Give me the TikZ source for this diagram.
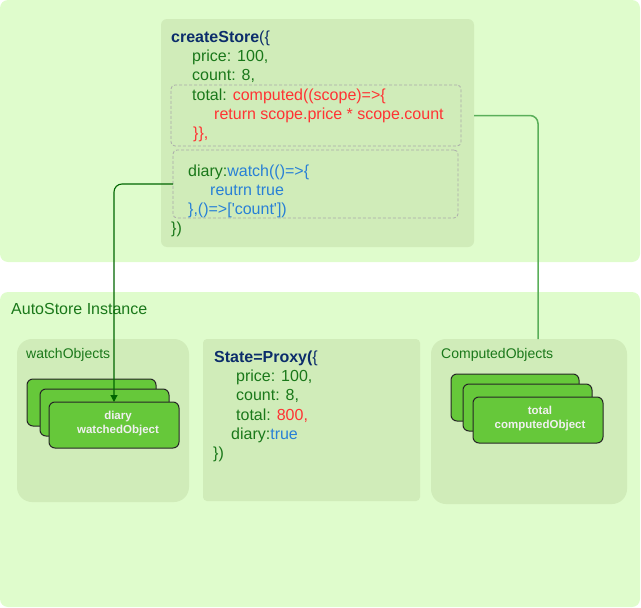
\documentclass[tikz,border=0pt]{standalone}
\usepackage{fontspec}
\setmainfont{Liberation Sans}[Ligatures=TeXOff]
\usetikzlibrary{arrows.meta}
\definecolor{paleGreen}{RGB}{223,252,204}
\definecolor{panelGreen}{RGB}{208,236,185}
\definecolor{objGreen}{RGB}{102,200,58}
\definecolor{objText}{RGB}{240,240,240}
\definecolor{codeGreen}{RGB}{26,120,26}
\definecolor{codeNavy}{RGB}{12,45,107}
\definecolor{codeRed}{RGB}{255,51,51}
\definecolor{codeBlue}{RGB}{40,128,214}
\definecolor{linkDark}{RGB}{0,102,0}
\definecolor{linkLight}{RGB}{90,175,90}
\definecolor{dashGray}{RGB}{170,170,170}

\begin{document}
\begin{tikzpicture}
[
    x=1pt, y=-1pt,
    area/.style={fill=paleGreen, rounded corners=8pt, inner sep=0, outer sep=0, anchor=north west},
    panel/.style={fill=panelGreen, rounded corners=#1, inner sep=0, outer sep=0, anchor=north west},
    dashbox/.style={draw=dashGray, dash pattern=on 3pt off 2pt, line width=0.8pt, rounded corners=4pt, inner sep=0, outer sep=0, anchor=north west},
    objbox/.style={fill=objGreen, draw=black!85, line width=1pt, rounded corners=6pt, minimum width=130pt, minimum height=46pt, inner sep=0, outer sep=0},
    objtext/.style={font=\fontsize{11.5}{14}\selectfont\bfseries, text=objText, align=center, inner sep=0},
    codetext/.style={font=\fontsize{16}{19.1}\selectfont, text=codeGreen, align=left, inner sep=0, anchor=north west},
    caption/.style={font=\fontsize{14}{17}\selectfont, text=codeGreen, inner sep=0, anchor=west},
    link/.style={rounded corners=8pt}
]
    \useasboundingbox (0,0) rectangle (641,608);

    \begin{scope}
        \node [area, minimum width=640pt, minimum height=262pt] (upper) at (0,0) {};
        \node [panel=6pt, minimum width=313pt, minimum height=228pt] (store) at (161,19) {};
        \node [dashbox, minimum width=290pt, minimum height=61pt] (dcomp) at (171,85) {};
        \node [dashbox, minimum width=285pt, minimum height=68pt] (dwatch) at (173,150) {};
        \node [codetext] (storecode) at (171,31) {%
            {\color{codeNavy}\textbf{createStore}(\{}\\
            \hspace*{21pt}price: 100,\\
            \hspace*{21pt}count: 8,\\
            \hspace*{21pt}total: {\color{codeRed}computed((scope)=>\{}\\
            \hspace*{43pt}{\color{codeRed}return scope.price * scope.count}\\
            \hspace*{22pt}{\color{codeRed}\}\},}\\
            \mbox{}\\
            \hspace*{17pt}diary:{\color{codeBlue}watch(()=>\{}\\
            \hspace*{39pt}{\color{codeBlue}reutrn true}\\
            \hspace*{17pt}{\color{codeBlue}\},()=>['count'])}\\
            \})};
    \end{scope}

    \begin{scope}
        \node [area, minimum width=640pt, minimum height=315pt] (lower) at (0,292) {};
        \node [caption, font=\fontsize{16}{19}\selectfont] (instlabel) at (11,309) {AutoStore Instance};
        \node [panel=15pt, minimum width=172pt, minimum height=163pt] (watchc) at (17,339) {};
        \node [panel=4pt, minimum width=217pt, minimum height=162pt] (statebox) at (203,339) {};
        \node [panel=15pt, minimum width=196pt, minimum height=165pt] (compc) at (431,339) {};
        \node [caption] (watchlabel) at (26,355) {watchObjects};
        \node [caption] (complabel) at (441,355) {ComputedObjects};

        \node [objbox, minimum width=129pt, minimum height=47pt] (wobj1) at (91.5,402.5) {};
        \node [objbox, minimum width=129pt, minimum height=47pt] (wobj2) at (104.5,412.5) {};
        \node [objbox] (wobj3) at (114,425) {};
        \node [objtext] (wtext) at (118,424) {diary\\watchedObject};

        \node [objbox, minimum width=128pt, minimum height=47pt] (cobj1) at (515,397.5) {};
        \node [objbox, minimum width=129pt, minimum height=47pt] (cobj2) at (527.5,407.5) {};
        \node [objbox] (cobj3) at (538,420) {};
        \node [objtext] (ctext) at (540,419) {total\\computedObject};

        \node [codetext] (statecode) at (214,351) {%
            {\color{codeNavy}\textbf{State=Proxy(}\{}\\
            \hspace*{22pt}price: 100,\\
            \hspace*{22pt}count: 8,\\
            \hspace*{22pt}total: {\color{codeRed}800,}\\
            \hspace*{17pt}diary:{\color{codeBlue}true}\\
            \hspace*{-1pt}\})};
    \end{scope}

    \coordinate (tap) at (store.east |- dcomp.east);
    \draw [link, draw=linkLight, line width=1.5pt] (tap) -| (cobj3.north |- compc.north);
    \draw [link, draw=linkDark, line width=1.1pt, -{Triangle[length=7pt, width=7pt]}] (dwatch.west) -| (wobj3.north);
\end{tikzpicture}
\end{document}
